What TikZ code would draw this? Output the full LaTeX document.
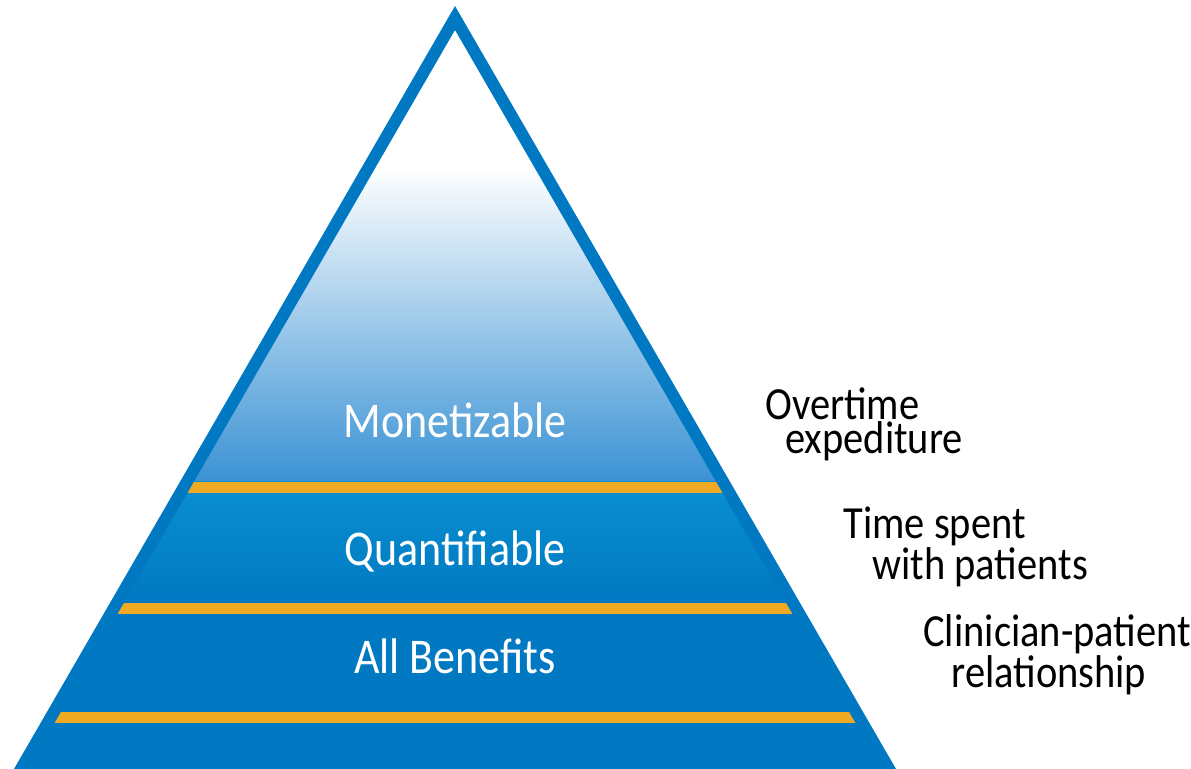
\documentclass[tikz,border=0pt]{standalone}
\usepackage{fontspec}
\setmainfont[FakeStretch=0.88]{Carlito}

\definecolor{pyrblue}{HTML}{0079C2}
\definecolor{pyrlight}{HTML}{0A90D0}
\definecolor{pyrfade}{HTML}{3A92D4}
\definecolor{pyrband}{HTML}{EEAA22}

\begin{document}
\begin{tikzpicture}[x=0.5pt,y=-0.5pt,
    tier/.style={text=white,anchor=base,inner sep=0pt,font=\fontsize{25}{16}\selectfont},
    note/.style={anchor=base west,align=left,inner sep=0pt,font=\fontsize{23}{16}\selectfont},
    band/.style={fill=pyrband}]
\useasboundingbox (0,0) rectangle (1191,769);

\coordinate (apex) at (455,18);
\coordinate (bl) at (3,800);
\coordinate (br) at (907,800);

% pyramid body
\begin{scope}
  \clip (apex) -- (br) -- (bl) -- cycle;
  \shade[top color=white,bottom color=pyrfade] (0,167) rectangle (1191,482);
  \shade[top color=pyrlight,bottom color=pyrblue] (0,482) rectangle (1191,603);
  \fill[pyrblue] (0,603) rectangle (1191,800);
  \foreach \y in {482,603,712}
    \fill[band] (0,\y) rectangle (1191,\y+11);
\end{scope}
\draw[pyrblue,line width=6pt] (bl) -- (apex) -- (br);

% tiers
\node[tier] (mon) at (455,438) {Monetizable};
\node[tier] (quant) at (455,566) {Quantifiable};
\node[tier] (all) at (455,674) {All Benefits};

% examples (anchored at the second line)
\node[note] (over) at (765,454) {Overtime\\\hspace*{10pt}expediture};
\node[note] (time) at (843,580) {Time spent\\\hspace*{14.5pt}with patients};
\node[note] (clin) at (923,688) {Clinician-patient\\\hspace*{14pt}relationship};

\end{tikzpicture}
\end{document}
